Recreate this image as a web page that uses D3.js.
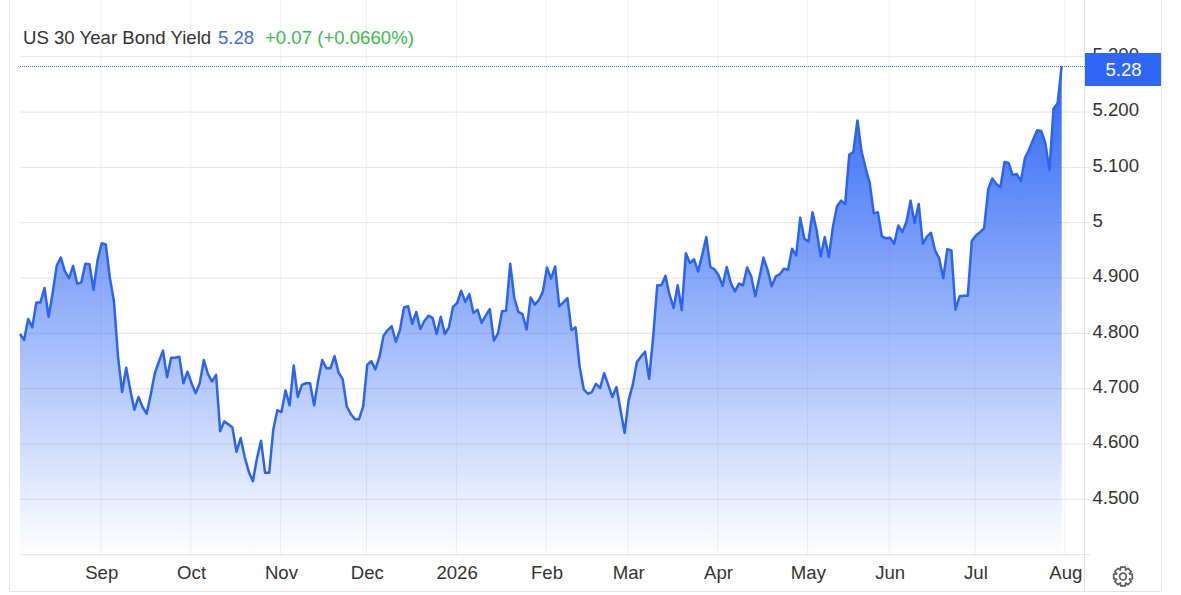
<!DOCTYPE html>
<html lang="en">
<head>
    <meta charset="UTF-8">
    <title>US 30 Year Bond Yield</title>
    <script src="https://cdn.jsdelivr.net/npm/d3@7"></script>
    <style>
        html, body { margin: 0; padding: 0; background: #fff; overflow: hidden; }
        text { font-family: "Liberation Sans", Arial, sans-serif; font-size: 18.6px; }
    </style>
</head>
<body>
<script type="text/javascript">
    // daily closes, one per trading day
    var yields = [
        4.798, 4.787, 4.825, 4.810, 4.855, 4.855, 4.881, 4.829, 4.872, 4.922,
        4.936, 4.911, 4.899, 4.921, 4.889, 4.891, 4.925, 4.924, 4.878, 4.932,
        4.962, 4.960, 4.899, 4.857, 4.757, 4.693, 4.737, 4.697, 4.661, 4.684,
        4.666, 4.654, 4.688, 4.727, 4.748, 4.768, 4.720, 4.755, 4.755, 4.757,
        4.709, 4.730, 4.709, 4.691, 4.709, 4.751, 4.726, 4.712, 4.724, 4.622,
        4.640, 4.635, 4.629, 4.585, 4.610, 4.576, 4.549, 4.532, 4.573, 4.605,
        4.547, 4.547, 4.625, 4.660, 4.657, 4.696, 4.669, 4.741, 4.684, 4.706,
        4.709, 4.709, 4.669, 4.715, 4.751, 4.736, 4.736, 4.758, 4.728, 4.716,
        4.667, 4.653, 4.644, 4.644, 4.667, 4.742, 4.749, 4.734, 4.757, 4.795,
        4.805, 4.812, 4.784, 4.805, 4.846, 4.848, 4.816, 4.838, 4.807, 4.822,
        4.831, 4.827, 4.798, 4.829, 4.798, 4.810, 4.847, 4.854, 4.876, 4.856,
        4.870, 4.836, 4.842, 4.818, 4.831, 4.843, 4.786, 4.799, 4.839, 4.840,
        4.925, 4.863, 4.838, 4.834, 4.806, 4.864, 4.851, 4.859, 4.875, 4.918,
        4.898, 4.920, 4.848, 4.855, 4.863, 4.805, 4.810, 4.739, 4.698, 4.690,
        4.693, 4.708, 4.700, 4.727, 4.706, 4.684, 4.702, 4.661, 4.619, 4.679,
        4.706, 4.747, 4.757, 4.766, 4.717, 4.793, 4.886, 4.886, 4.903, 4.869,
        4.845, 4.886, 4.841, 4.944, 4.926, 4.933, 4.911, 4.941, 4.973, 4.919,
        4.915, 4.904, 4.885, 4.919, 4.890, 4.875, 4.889, 4.886, 4.918, 4.902,
        4.866, 4.900, 4.936, 4.914, 4.884, 4.902, 4.906, 4.916, 4.914, 4.952,
        4.940, 5.008, 4.970, 4.965, 5.018, 4.986, 4.938, 4.973, 4.937, 4.992,
        5.029, 5.039, 5.033, 5.122, 5.127, 5.184, 5.128, 5.098, 5.071, 5.016,
        5.018, 4.974, 4.971, 4.972, 4.961, 4.994, 4.982, 5.001, 5.039, 4.999,
        5.033, 4.961, 4.974, 4.981, 4.949, 4.935, 4.899, 4.951, 4.949, 4.842,
        4.866, 4.867, 4.867, 4.966, 4.976, 4.982, 4.989, 5.059, 5.079, 5.069,
        5.063, 5.109, 5.107, 5.085, 5.087, 5.074, 5.116, 5.131, 5.149, 5.166,
        5.165, 5.143, 5.094, 5.205, 5.215, 5.282
    ];
    var monthLabels = ["Sep", "Oct", "Nov", "Dec", "2026", "Feb", "Mar", "Apr", "May", "Jun", "Jul", "Aug"];
    var monthStarts = [20, 42, 64, 85, 107, 129, 149, 171, 193, 213, 234, 256];   // trading day index
    var yTicks = [4.4, 4.5, 4.6, 4.7, 4.8, 4.9, 5.0, 5.1, 5.2, 5.3];
    var yTickLabels = ["", "4.500", "4.600", "4.700", "4.800", "4.900", "5", "5.100", "5.200", "5.300"];
    var titleName = "US 30 Year Bond Yield";
    var lastValue = "5.28";
    var changeText = "+0.07 (+0.0660%)";

    var w = 1181;
    var h = 595;
    var blue = "#2b64ef";

    var svg = d3.select("body")
        .append("svg")
        .attr("width", w)
        .attr("height", h)
        .style("display", "block");

    var x = d3.scaleLinear().domain([0, yields.length - 1]).range([20, 1061.7]);
    var y = d3.scaleLinear().domain([4.4, 5.3]).range([554.2, 56.2]);

    // outer frame
    svg.append("path")
        .attr("d", "M9.5,0V591.5H1161.5V0M1084.5,0V591.5")
        .attr("fill", "none")
        .attr("stroke", "#e4e4e4");

    var defs = svg.append("defs");
    var grad = defs.append("linearGradient")
        .attr("id", "fade")
        .attr("gradientUnits", "userSpaceOnUse")
        .attr("x1", 0).attr("x2", 0)
        .attr("y1", y(5.282)).attr("y2", y(4.4));
    grad.append("stop").attr("offset", 0).attr("stop-color", "#2b64f5").attr("stop-opacity", 1);
    grad.append("stop").attr("offset", 1).attr("stop-color", "#2b64f5").attr("stop-opacity", 0);

    // x axis, the grid lines sit a pixel left of the trading day
    var xAxis = d3.axisBottom(x)
        .tickValues(monthStarts)
        .tickSize(0)
        .tickPadding(0)
        .tickFormat(function (d, i) { return monthLabels[i]; });
    var gx = svg.append("g").attr("transform", "translate(-1.3,0)").call(xAxis);
    gx.select(".domain").remove();
    gx.selectAll("line")
        .attr("y1", 0).attr("y2", 555)
        .attr("stroke", "#efefef");
    gx.selectAll("text")
        .attr("x", 0.8)
        .attr("y", 579).attr("dy", 0)
        .attr("fill", "#333")
        .style("font-size", "18.6px");

    // y axis
    var yAxis = d3.axisRight(y)
        .tickValues(yTicks)
        .tickSize(0)
        .tickFormat(function (d, i) { return yTickLabels[i]; });
    var gy = svg.append("g").call(yAxis);
    gy.select(".domain").remove();
    gy.selectAll("line")
        .attr("x1", 20).attr("x2", 1090)
        .attr("stroke", "#e3e3e3");
    gy.selectAll("text")
        .attr("x", 1092.5).attr("dy", 0)
        .attr("transform", "translate(0,4.2)")
        .attr("fill", "#333")
        .style("font-size", "18.6px");

    var area = d3.area()
        .x(function (d, i) { return x(i); })
        .y0(y(4.4))
        .y1(function (d) { return y(d); });
    var line = d3.line()
        .x(function (d, i) { return x(i); })
        .y(function (d) { return y(d); });

    svg.append("path").datum(yields)
        .attr("d", area)
        .attr("fill", "url(#fade)");
    svg.append("path").datum(yields)
        .attr("d", line)
        .attr("fill", "none")
        .attr("stroke", blue)
        .attr("stroke-width", 2.5)
        .attr("stroke-linejoin", "round");

    // last price line and tag
    var lastY = Math.round(y(yields[yields.length - 1])) + 0.5;
    svg.append("line")
        .attr("x1", 20).attr("x2", 1085)
        .attr("y1", lastY).attr("y2", lastY)
        .attr("stroke", "#3f6fe0")
        .attr("stroke-width", 1)
        .attr("stroke-dasharray", "1,1");
    svg.append("rect")
        .attr("x", 1085).attr("y", 53)
        .attr("width", 76).attr("height", 33)
        .attr("fill", "#2e67f8");
    svg.append("text")
        .text(lastValue)
        .attr("x", 1123.5).attr("y", 75.5)
        .attr("text-anchor", "middle")
        .attr("fill", "#fff");

    // title
    svg.append("text").text(titleName)
        .attr("x", 23).attr("y", 44)
        .attr("fill", "#333");
    svg.append("text").text(lastValue)
        .attr("x", 218).attr("y", 44)
        .attr("fill", "#3f6fd0");
    svg.append("text").text(changeText)
        .attr("x", 265).attr("y", 44)
        .attr("fill", "#3dbb4a");

    // settings gear
    var gear = svg.append("g")
        .attr("transform", "translate(1123,576.5)")
        .attr("fill", "none")
        .attr("stroke", "#5f5f5f")
        .attr("stroke-width", 1.7);
    var gearPts = [];
    d3.range(8).forEach(function (k) {
        var a = k * Math.PI / 4;
        [[-0.38, 7], [-0.24, 9.6], [0.24, 9.6], [0.38, 7]].forEach(function (p) {
            gearPts.push([p[1] * Math.cos(a + p[0]), p[1] * Math.sin(a + p[0])]);
        });
    });
    gear.append("path").attr("d", d3.line().curve(d3.curveLinearClosed)(gearPts));
    gear.append("circle").attr("r", 3.4);
</script>
</body>
</html>
